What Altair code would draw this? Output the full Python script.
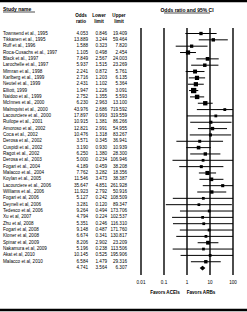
import altair as alt
import numpy as np
import pandas as pd

FONT = "Liberation Sans"

studies = [
    "Townsend et al., 1995", "Tikkanen et al., 1995", "Ruff et al., 1996",
    "Roca-Cusachs et al., 1997", "Black et al., 1997", "Larochelle et al., 1997",
    "Mimran et al., 1998", "Karlberg et al., 1999", "Neutel et al., 1999",
    "Elliott, 1999", "Naidoo et al., 1999", "McInnes et al., 2000",
    "Malmqvist et al., 2000", "Lacourciere et al., 2000", "Ruilope et al., 2001",
    "Amoroso et al., 2002", "Coca et al., 2002", "Derosa et al., 2002",
    "Cuspidi et al., 2002", "Ragot et al., 2002", "Derosa et al., 2003",
    "Fogari et al., 2004", "Malacco et al., 2004", "Koylan et al., 2005",
    "Lacourciere et al., 2006", "Williams et al., 2006", "Fogari et al, 2006",
    "Deyneli et al, 2006", "Tedesco et al, 2006", "Xu et al, 2007",
    "Zhu et al, 2008", "Fogari et al, 2008", "Kloner et al, 2008",
    "Spinar et al, 2009", "Nakamura et al, 2009", "Akat et al, 2010",
    "Malacco et al, 2010",
]
odds = [4.053, 13.889, 1.588, 1.105, 7.849, 5.937, 2.241, 2.716, 2.431, 1.947,
        2.752, 6.230, 43.976, 17.897, 10.915, 12.821, 10.476, 3.571, 3.190, 6.250,
        5.000, 4.189, 7.762, 11.546, 35.647, 11.923, 5.127, 3.281, 9.264, 4.794,
        5.351, 9.148, 6.674, 8.206, 5.196, 10.145, 6.584]
lower = [0.846, 3.244, 0.323, 0.498, 2.567, 1.515, 0.872, 1.203, 1.102, 1.226,
         1.355, 2.963, 2.686, 0.993, 1.381, 2.991, 1.318, 0.345, 0.930, 1.380,
         0.234, 0.459, 3.282, 3.473, 4.851, 2.792, 0.242, 0.120, 0.494, 0.224,
         0.246, 0.487, 0.341, 2.902, 0.238, 0.525, 1.479]
upper = [19.409, 59.464, 7.820, 2.454, 24.003, 23.269, 5.761, 6.135, 5.364, 3.091,
         5.593, 13.100, 719.592, 319.559, 86.266, 54.955, 83.267, 36.941, 10.939, 28.300,
         106.946, 38.208, 18.356, 38.387, 261.928, 50.916, 108.509, 89.347, 173.706, 102.537,
         116.310, 171.760, 130.817, 23.209, 113.506, 195.906, 29.316]
summary = [4.741, 3.564, 6.307]  # odds ratio, lower, upper
ticks = [0.01, 0.1, 1, 10, 100]
tick_labels = ["0.01", "0.1", "1", "10", "100"]

n = len(studies)
df = pd.DataFrame({
    "study": studies, "odds": odds, "lower": lower, "upper": upper,
    "row": list(range(n)),
})
df["odds_s"] = [f"{v:.3f}" for v in odds]
df["lower_s"] = [f"{v:.3f}" for v in lower]
df["upper_s"] = [f"{v:.3f}" for v in upper]
se = (np.log(df["upper"]) - np.log(df["lower"])) / 3.92
df["w"] = 1.0 / se ** 2

sum_row = n
sdf = pd.DataFrame({"row": [sum_row], "odds_s": [f"{summary[0]:.3f}"],
                    "lower_s": [f"{summary[1]:.3f}"], "upper_s": [f"{summary[2]:.3f}"]})
h = 0.38
ddf = pd.DataFrame({"x": [summary[1], summary[0], summary[2]],
                    "y": [sum_row, sum_row - h, sum_row],
                    "y2": [sum_row, sum_row + h, sum_row]})
tdf = pd.DataFrame({"t": ticks, "lab": tick_labels})

W, H = 247, 312
top, step = 33.5, 6.34
yscale = alt.Scale(domain=[-top / step, (H - top) / step], reverse=True, nice=False, zero=False)
xscale = alt.Scale(type="log", domain=[0.01, 100], range=[141, 233], clamp=True, nice=False)
FS = 4.6

base = alt.Chart(df)
Y = alt.Y("row:Q", scale=yscale, axis=None)

names = base.mark_text(align="left", baseline="middle", font=FONT, fontSize=FS, color="black").encode(
    x=alt.value(3), y=Y, text="study:N")

def numcol(d, field, xr):
    return alt.Chart(d).mark_text(align="right", baseline="middle", font=FONT, fontSize=FS,
                                  color="black").encode(x=alt.value(xr), y=Y, text=f"{field}:N")

cols = [numcol(df, "odds_s", 88), numcol(df, "lower_s", 107), numcol(df, "upper_s", 127),
        numcol(sdf, "odds_s", 88), numcol(sdf, "lower_s", 107), numcol(sdf, "upper_s", 127)]

one = pd.DataFrame({"a": [0]})

def label(text, x, y, bold=False, align="center", size=FS):
    return alt.Chart(one).mark_text(text=text, align=align, baseline="middle", font=FONT,
                                    fontSize=size, fontWeight="bold" if bold else "normal",
                                    color="black").encode(x=alt.value(x), y=alt.value(y))

def hline(x1, x2, y, sw=0.7):
    return alt.Chart(one).mark_rule(color="black", strokeWidth=sw).encode(
        x=alt.value(x1), x2=alt.value(x2), y=alt.value(y))

headers = [
    label("Study name", 3, 9, bold=True, align="left", size=5),
    hline(3, 35, 12),
    label("Odds", 81, 16, bold=True), label("ratio", 81, 21.5, bold=True),
    label("Lower", 99, 16, bold=True), label("limit", 99, 21.5, bold=True),
    label("Upper", 119, 16, bold=True), label("limit", 119, 21.5, bold=True),
    label("Odds ratio and 95% CI", 187, 10, bold=True, size=5),
    hline(164, 210, 13),
    hline(0, W, 1, sw=2.5),
    hline(0, W, 310, sw=2.5),
]

vlines = alt.Chart(tdf).mark_rule(color="black", strokeWidth=1.4).encode(
    x=alt.X("t:Q", scale=xscale, axis=None), y=alt.value(28), y2=alt.value(275))
ticklabs = alt.Chart(tdf).mark_text(baseline="middle", font=FONT, fontSize=FS, color="black").encode(
    x=alt.X("t:Q", scale=xscale, axis=None), y=alt.value(283), text="lab:N")
fav = [label("Favors ACEIs", 165, 293, bold=True), label("Favors ARBs", 201, 293, bold=True)]

ci = base.mark_rule(color="black", strokeWidth=1).encode(
    x=alt.X("lower:Q", scale=xscale, axis=None), x2="upper:Q", y=Y)
sq = base.mark_square(color="black", opacity=1, filled=True).encode(
    x=alt.X("odds:Q", scale=xscale, axis=None), y=Y,
    size=alt.Size("w:Q", scale=alt.Scale(type="sqrt", domain=[0, 18], range=[4, 28]), legend=None))
diamond = alt.Chart(ddf).mark_area(color="black", opacity=1).encode(
    x=alt.X("x:Q", scale=xscale, axis=None),
    y=alt.Y("y:Q", scale=yscale, axis=None), y2="y2:Q")

chart = alt.layer(
    vlines, ci, sq, diamond, ticklabs, names, *cols, *headers, *fav
).properties(
    width=W, height=H, autosize=alt.AutoSizeParams(type="none"), padding=0,
    background="white"
).configure_view(stroke=None)

chart.save("out.html", embed_options={"renderer": "svg", "actions": False})
